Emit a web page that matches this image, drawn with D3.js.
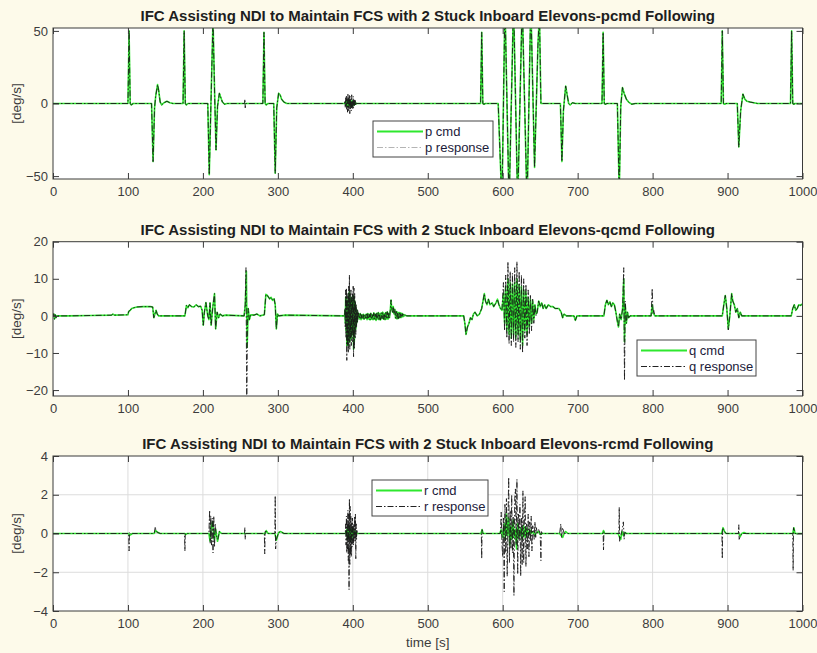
<!DOCTYPE html>
<html>
<head>
<meta charset="utf-8">
<script src="https://cdn.jsdelivr.net/npm/d3@7"></script>
<style>
  html, body { margin: 0; padding: 0; background: #fdfaea; }
  svg { display: block; font-family: "Liberation Sans", Arial, sans-serif; }
</style>
</head>
<body>
<svg id="chart" width="817" height="653"></svg>
<script>
// ---- tick labels ----
const timeTicks = [0, 100, 200, 300, 400, 500, 600, 700, 800, 900, 1000];
const pTicks = [-50, 0, 50];
const qTicks = [-20, -10, 0, 10, 20];
const rTicks = [-4, -2, 0, 2, 4];

const titles = [
  "IFC Assisting NDI to Maintain FCS with 2 Stuck Inboard Elevons-pcmd Following",
  "IFC Assisting NDI to Maintain FCS with 2 Stuck Inboard Elevons-qcmd Following",
  "IFC Assisting NDI to Maintain FCS with 2 Stuck Inboard Elevons-rcmd Following"
];
const legendP = ["p cmd", "p response"];
const legendQ = ["q cmd", "q response"];
const legendR = ["r cmd", "r response"];

// ---- roll rate p [deg/s]: [time, value] ----
const pCmd = [
  [0,0],[100,0],[101.5,50],[103,0],[104.5,-1],[107,0],
  [131.5,0],[133.5,-40],[135.5,-3],[137,5],[139.5,13],[141,9],[143,1],[145,-1],[148,0.5],[152,1.5],[156,0.5],[160,0],
  [173.5,0],[175,50],[176.5,0],[178,-1],[180,0],
  [206.5,0],[208.5,-49],[210.5,-5],[213.5,58],[215.5,10],[217.5,-32],[219.5,-2],[222,7],[224,4],[226,1],[229,-0.5],[232,0],
  [280,0],[281.5,49],[283,0],[284.5,-1],[287,0],
  [294.5,0],[296.5,-48],[298.5,-3],[301,7],[303,6],[305,3],[308,1],[312,0],
  [390,0],[391,1.5],[392,-2],[393,2],[394,-1.5],[395,2.5],[396,-2],[397,1.5],[398,-2.5],[399,2],[400,-1.5],[401,1.5],[402,-1],[403,1],[404,-0.5],[405,0],
  [570.5,0],[572,49],[573.5,0],[575,-0.5],[577,0],
  [594,0],[599,-70],[603,70],[608.5,-70],[614.5,70],[620,-70],[626,70],[632.5,-70],[637.5,70],[642.5,-44],[647,40],[649,62],[651,0],[653,0],
  [677,0],[679,-40],[681,-5],[684,12],[686,6],[688,0],[690,-1],[693,0.5],[697,0],
  [732.5,0],[734,49],[735.5,0],[737,-0.5],[739,0],
  [753,0],[755.5,-62],[757.5,-2],[759.8,11],[762,7],[765,3],[768,1],[772,-0.5],[777,0],
  [891.5,0],[893,50],[894.5,0],[896,-0.5],[898,0],
  [913,0],[915,-30],[917.5,-5],[920.5,6.5],[923,3],[926,1.5],[930,1],[935,0.5],[940,0],
  [984,0],[985.5,50],[987,0],[988.5,-0.5],[990,0],[1000,0]
];
const pResponse = [
  [0,0],[100,0],[101.5,50],[103,0],[104.5,-1],[107,0],
  [131.5,0],[133.5,-40],[135.5,-3],[137,5],[139.5,13],[141,9],[143,1],[145,-1],[148,0.5],[152,1.5],[156,0.5],[160,0],
  [173.5,0],[175,50],[176.5,0],[178,-1],[180,0],
  [206.5,0],[208.5,-49],[210.5,-5],[213.5,58],[215.5,10],[217.5,-32],[219.5,-2],[222,7],[224,4],[226,1],[229,-0.5],[232,0],
  [255.5,0],[256,3],[256.5,-3],[257,0],
  [280,0],[281.5,49],[283,0],[284.5,-1],[287,0],
  [294.5,0],[296.5,-48],[298.5,-3],[301,7],[303,6],[305,3],[308,1],[312,0],
  [389,0],[389.5,2],[390,-3],[390.5,4],[391,-2],[391.5,5],[392,-4],[392.5,3],[393,-6],[393.5,7],[394,-5],[394.5,4],[395,-3],
  [395.5,6],[396,-7],[396.5,5],[397,-4],[397.5,3],[398,-5],[398.5,6],[399,-3],[399.5,2],[400,-4],[400.5,5],[401,-3],
  [401.5,2],[402,-2],[402.5,3],[403,-1],[403.5,2],[404,-1],[404.5,0.5],[405,0],
  [570.5,0],[572,49],[573.5,0],[575,-0.5],[577,0],
  [594,0],[599,-70],[603,70],[608.5,-70],[614.5,70],[620,-70],[626,70],[632.5,-70],[637.5,70],[642.5,-44],[647,40],[649,62],[651,0],[653,0],
  [677,0],[679,-40],[681,-5],[684,12],[686,6],[688,0],[690,-1],[693,0.5],[697,0],
  [732.5,0],[734,49],[735.5,0],[737,-0.5],[739,0],
  [753,0],[755.5,-62],[757.5,-2],[759.8,11],[762,7],[765,3],[768,1],[772,-0.5],[777,0],
  [891.5,0],[893,50],[894.5,0],[896,-0.5],[898,0],
  [913,0],[915,-30],[917.5,-5],[920.5,6.5],[923,3],[926,1.5],[930,1],[935,0.5],[940,0],
  [984,0],[985.5,50],[987,0],[988.5,-0.5],[990,0],[1000,0]
];

// ---- pitch rate q [deg/s] ----
const qCmd = [
  [0,-0.3],[1,0.5],[2,-0.8],[3,0.3],[4,-0.5],[5,0],[20,0],[50,0.1],[78,0.2],[80,0.5],[82,0.2],[100,0.3],
  [101,1.2],[103,1.5],[105,2.0],[108,2.2],[112,2.4],[120,2.5],[130,2.5],[133,2.4],[134.5,-0.5],[136,0.5],[137.5,1.5],[139,0.5],[141,0],
  [176,0],[178,2.8],[180,2.2],[182,3],[185,2.5],[188,2.4],[191,3],[194,2.5],[197,2.6],[199,1.5],[200.5,-2.5],[202,1],[204,3.6],
  [206.5,0],[208,-1],[209.5,3.5],[211,-2.5],[213,2],[215.5,6],[217,-3.5],[219,1],[221,-0.5],[223,0.5],[226,0],[230,0.2],
  [255,0],[256.5,3],[258,12],[259,-8.5],[260.5,2],[262,-1],[264,0.3],[268,0.2],[272,0.5],[276,0],
  [282,0.3],[284,5.8],[286,5.5],[289,4.6],[291,5],[293,4.2],[295,4.6],[296.5,3],[298,-3.5],[299.5,0.5],[301,0],[310,0.2],
  [389,0],[389.5,1.5],[390,-2],[390.5,5],[391,-4],[391.5,5],[392,-8],[392.5,4],[393,-6],[393.5,4],[394,-8],[394.5,6],[395,-5],
  [395.5,6.5],[396,-7],[396.5,4],[397,-4.5],[397.5,5],[398,-6],[398.5,4],[399,-4],[399.5,4.5],[400,-5],[400.5,5.5],[401,-9],
  [401.5,5],[402,-7],[402.5,4],[403,-4],[403.5,3],[404,-3.5],[404.5,2],[405,-2],[405.5,1.5],[406,-1.5],[406.5,1],[407,-0.5],[407.5,0.5],
  [408,0.5],[409,-0.8],[410,0.6],[411,-1],[412,0.3],[413,-0.7],[414,0.4],[415,-0.9],[416,0.2],[417,-0.6],[418,0.5],[419,-1],
  [420,0.6],[421,-0.8],[422,0.4],[423,-1.1],[424,0.7],[425,-0.9],[426,0.3],[427,-1],[428,0.8],[429,-0.9],[430,0.5],[431,-1.2],
  [432,0.7],[433,-0.8],[434,0.9],[435,-1],[436,0.6],[437,-1.1],[438,0.8],[439,-0.7],[440,1],[441,-0.9],[442,0.6],[443,-1],
  [444,0.9],[445,-0.8],[446,1.1],[447,-0.9],[448,0.7],[449,-0.5],[450,1.5],[451,4.3],[452,2],[453,1],[454,2.5],[455,0.5],
  [456,1.8],[457,-0.6],[458,1.2],[459,-0.8],[460,1],[461,-0.7],[462,0.9],[463,-0.5],[464,0.8],[465,-0.4],[466,0.6],[467,-0.2],
  [468,0.4],[469,0],[470,0.2],[472,0],[548,0],
  [549.5,-2],[551,-5],[553,-3],[555,-2],[557,-0.5],[559,-1],[561,0.5],[563,1],[566,0],[569,0.5],[572,2],[575.5,6],[577,4],
  [579,3],[581,4.5],[583,3],[586,3.5],[588,2.5],[591,3.5],[593,4.5],[595,3],[597,2],[599,1.5],
  [601,6],[602.5,-2],[604,8],[605.5,-4],[607,10],[608.5,-5],[610,9],[611.5,-6],[613,8.5],[614.5,-5],[616,9],[617.5,-6],
  [619,10],[620.5,-5],[622,8.5],[623.5,-6.5],[625,8],[626.5,-8],[628,7],[629.5,-4],[631,6.5],[632.5,-5],[634,5],[635.5,-3],
  [637,4.5],[638.5,-2],[640,4],[641.5,-1],[643,3],[644.5,0.5],[646,1],
  [648,4],[650,2.5],[652,3.5],[654,2],[656,3],[658,2],[661,3],[664,2.5],[667,2.5],[670,2],[675,2],[678,1],[680,-0.5],[682,0.5],
  [685,0],[695,0],[697,-1.2],[699,0],[703,0],[735,0],[737,3],[739,4.2],[741,3],[743,3.8],[745,2.5],[747,3.5],[749,3],[751,1],
  [753,-1.5],[754.5,-3],[756,0.5],[758,-1],[760,2],[761.5,10],[762.5,-7],[763.5,3],[765,-2],[766.5,1],[768,-0.5],[770,0],
  [798,0],[799.5,3],[801,0.8],[803,0],[893,0],[895,3],[897,5.5],[899,2],[901,-3.5],[903,0],[905.5,6],[907,4],[909,3],[911,1],
  [913,2],[915,-0.5],[917,1],[919,0],[925,0],[985,0],[987,2],[989,3],[991,1.5],[993,2],[995,3],[997,2.8],[1000,3.2]
];
const qResponse = [
  [0,-0.3],[1,0.6],[2,-0.9],[3,0.3],[4,-0.5],[5,0],[20,0],[50,0.1],[78,0.2],[80,0.5],[82,0.2],[100,0.3],
  [101,1.2],[103,1.5],[105,2.0],[108,2.2],[112,2.4],[120,2.5],[130,2.5],[133,2.4],[134.5,-0.5],[136,0.5],[137.5,1.5],[139,0.5],[141,0],
  [176,0],[178,2.8],[180,2.2],[182,3],[185,2.5],[188,2.4],[191,3],[194,2.5],[197,2.6],[199,1.5],[200.5,-2.5],[202,1],[204,3.6],
  [206.5,0],[208,-1],[209.5,3.5],[211,-2.5],[213,2],[215.5,6],[217,-3.5],[219,1],[221,-0.5],[223,0.5],[226,0],[230,0.2],
  [255,0],[256.5,3],[257.5,13],[258.5,-25],[259.5,-2],[260.5,2],[262,-1],[264,0.3],[268,0.2],[272,0.5],[276,0],
  [282,0.3],[284,5.8],[286,5.5],[289,4.6],[291,5],[293,4.2],[295,4.6],[296.5,3],[298,-3.5],[299.5,0.5],[301,0],[310,0.2],
  [389,0],[389.5,2],[390,-3],[390.5,7],[391,-6],[391.5,7.5],[392,-12],[392.5,6],[393,-8],[393.5,5],[394,-10],[394.5,8],[395,-7],
  [395.5,11],[396,-9],[396.5,6],[397,-6],[397.5,7],[398,-8],[398.5,5],[399,-5],[399.5,6],[400,-7],[400.5,8],[401,-11],
  [401.5,7.5],[402,-9],[402.5,6],[403,-6],[403.5,4],[404,-5],[404.5,3],[405,-3],[405.5,2],[406,-2],[406.5,1.5],[407,-1],[407.5,0.8],
  [408,0.5],[409,-0.8],[410,0.6],[411,-1],[412,0.3],[413,-0.7],[414,0.4],[415,-0.9],[416,0.2],[417,-0.6],[418,0.5],[419,-1],
  [420,0.6],[421,-0.8],[422,0.4],[423,-1.1],[424,0.7],[425,-0.9],[426,0.3],[427,-1],[428,0.8],[429,-0.9],[430,0.5],[431,-1.2],
  [432,0.7],[433,-0.8],[434,0.9],[435,-1],[436,0.6],[437,-1.1],[438,0.8],[439,-0.7],[440,1],[441,-0.9],[442,0.6],[443,-1],
  [444,0.9],[445,-0.8],[446,1.1],[447,-0.9],[448,0.7],[449,-0.5],[450,1.5],[451,4.3],[452,2],[453,1],[454,2.5],[455,0.5],
  [456,1.8],[457,-0.6],[458,1.2],[459,-0.8],[460,1],[461,-0.7],[462,0.9],[463,-0.5],[464,0.8],[465,-0.4],[466,0.6],[467,-0.2],
  [468,0.4],[469,0],[470,0.2],[472,0],[548,0],
  [549.5,-2],[551,-5],[553,-3],[555,-2],[557,-0.5],[559,-1],[561,0.5],[563,1],[566,0],[569,0.5],[572,2],[575.5,6],[577,4],
  [579,3],[581,4.5],[583,3],[586,3.5],[588,2.5],[591,3.5],[593,4.5],[595,3],[597,2],[599,1.5],
  [601,9],[602.5,-4],[604,11],[605.5,-6],[607,14.6],[608.5,-7.5],[610,12],[611.5,-8],[613,11.5],[614.5,-7],[616,13],[617.5,-8.5],
  [619,14.6],[620.5,-7],[622,12],[623.5,-9],[625,11],[626.5,-10],[628,10],[629.5,-6],[631,8.5],[632.5,-8],[634,7],[635.5,-5],
  [637,5.5],[638.5,-4],[640,4.5],[641.5,-2],[643,3],[644.5,0],[646,1],
  [648,4],[650,2.5],[652,3.5],[654,2],[656,3],[658,2],[661,3],[664,2.5],[667,2.5],[670,2],[675,2],[678,1],[680,-0.5],[682,0.5],
  [685,0],[695,0],[697,-1.2],[699,0],[703,0],[735,0],[737,3],[739,4.2],[741,3],[743,3.8],[745,2.5],[747,3.5],[749,3],[751,1],
  [753,-1.5],[754.5,-3],[756,0.5],[758,-1],[760,2],[761.5,13],[762.5,-17.4],[763.5,4],[765,-2],[766.5,1],[768,-0.5],[770,0],
  [798,0],[799.5,7.4],[800.5,0.5],[801.5,1.5],[803,0],[893,0],[895,3],[897,5.5],[899,2],[901,-3.8],[903,0],[905.5,6],[907,4],[909,3],[911,1],
  [913,2],[915,-0.5],[917,1],[919,0],[925,0],[985,0],[987,2],[989,3],[991,1.5],[993,2],[995,3],[997,2.8],[1000,3.2]
];

// ---- yaw rate r [deg/s] ----
const rCmd = [
  [0,0],[101,0],[102,-0.1],[104,-0.05],[106,0],[135,0],[137,0.15],[140,0.05],[143,0],[176,0],[177,-0.05],[179,0],
  [208,0],[209.5,-0.4],[211,0.3],[213,0.6],[215,-0.3],[217,0.2],[219.5,-0.4],[222,0.1],[225,0],
  [283,0],[284.5,0.15],[287,0],[296,0],[298,-0.35],[301,0.05],[304,0.1],[308,0],
  [390,0],[392,0.2],[393,-0.3],[394,0.4],[395,-0.2],[396,0.3],[397,-0.4],[398,0.2],[399,-0.2],[400,0.3],[401,-0.1],[402,0.1],[403,0],[404,0.1],[405,0],
  [571,0],[572.5,0.2],[574,0],[596,0],[598,0.2],[600,-0.2],[602,0.5],[603.5,-0.3],[605,1.0],[606.5,-0.1],[608,0.8],[609.5,-0.6],
  [611,0.4],[612.5,-0.3],[614,0.7],[615.5,-0.2],[617,0.2],[618.5,-0.8],[620,0.5],[622,-0.2],[624,0.3],[626,-0.3],[628,0.4],
  [630,-0.2],[632,0.3],[634,-0.1],[636,0.2],[638,0],[640,0.1],[643,-0.1],[645,0.05],[648,0.1],[650,-0.05],[652,0],
  [676,0],[678,-0.1],[680,-0.2],[682,0],[684,0.1],[687,0],[733,0],[734.5,0.15],[736,0],
  [754,0],[756,-0.2],[757.5,-0.3],[759,0.1],[761,-0.1],[763,0.05],[765,0],
  [892,0],[894,0.3],[896,0.1],[898,0],[915,0],[917,-0.15],[919,0],[922,0.05],[925,0],[987,0],[988.5,0.3],[990,0],[1000,0]
];
const rResponse = [
  [0,0],[101,0],[101.5,-0.9],[102,0.05],[104,-0.05],[106,0],[135,0],[136.5,0.35],[137.5,0.1],[140,0.05],[143,0],
  [175.5,0],[176,-0.9],[176.5,0],[208,0],[209,1.2],[209.8,-0.5],[210.5,0.9],[211.5,-0.6],[212.5,0.8],[213.5,-1.0],
  [214.5,0.9],[215.5,-0.7],[216.5,0.5],[218,-0.2],[220,-0.3],[222,0.1],[225,0],
  [255.5,0],[256,0.3],[256.5,-0.3],[257,0],[282,0],[282.5,-1.05],[283,0.1],[285,0.1],[287,0],
  [296,0],[296.5,1.95],[297,-0.8],[298,-0.3],[301,0.05],[304,0.1],[308,0],
  [390,0],[390.5,0.5],[391,-0.6],[391.5,0.9],[392,-1.0],[392.5,0.7],[393,-0.8],[393.5,1.2],[394,-1.4],[394.5,1.0],[395,-2.9],
  [395.5,1.8],[396,-1.6],[396.5,1.4],[397,-1.1],[397.5,0.9],[398,-1.2],[398.5,0.6],[399,-0.7],[399.5,0.8],[400,-0.5],
  [400.5,0.4],[401,-0.6],[401.5,0.5],[402,-0.3],[402.5,0.9],[403,-0.4],[403.5,1.0],[404,-1.3],[404.5,0.5],[405,-0.3],
  [405.5,0.2],[406,0],[408,0],
  [571.5,0],[572,-1.3],[572.5,0.2],[574,0],
  [597,0],[598,1.1],[599,-0.5],[600,-1.2],[601,0.8],[602,-3.0],[603,1.5],[604,-1.0],[605,1.8],[606,-2.2],[607,0.5],[608,2.9],
  [609,-1.5],[610,1.2],[611,-0.8],[612,2.0],[613,-1.0],[614,0.9],[615,-3.2],[616,1.8],[617,2.3],[618,-0.6],[619,2.8],
  [620,-2.1],[621,1.0],[622,-0.4],[623,1.5],[624,-2.2],[625,0.8],[626,-1.6],[627,2.2],[628,-1.5],[629,0.7],[630,1.9],
  [631,-1.7],[632,0.5],[633,-0.8],[634,1.0],[635,-1.2],[636,0.6],[637,-0.4],[638,0.9],[639,-0.9],[640,0.4],[641,0.2],
  [642,-0.3],[643,0.6],[644,-0.2],[645,0.3],[646,0],[648,0.2],[650,0],[651,-1.4],[651.5,0.1],[653,0],
  [676,0],[677.5,0.5],[678.5,-0.2],[680,0.3],[682,0],[734,0],[734.5,-0.85],[735,0.1],[736,0],
  [755,0],[755.5,1.35],[756,-0.4],[757,-0.2],[759,0.1],[761,0.6],[762,-0.3],[763,0.05],[765,0],
  [892.5,0],[893,-1.3],[893.5,0.3],[896,0.1],[898,0],[914.5,0],[915,0.45],[915.5,-0.3],[917,-0.15],[919,0],[925,0],
  [987,0],[987.5,-1.9],[988,0.3],[990,0],[1000,0]
];

// ---- layout of the three axes ----
const left = 53, right = 802.5;
const panels = [
  { top: 28, bottom: 179, domain: [-52, 52], ticks: pTicks, cmd: pCmd, resp: pResponse, title: titles[0],
    legend: legendP, legendBox: [373, 121, 120, 36], legendRespColor: "#b4b4b4", grid: false },
  { top: 241.7, bottom: 396, domain: [-21.6, 20], ticks: qTicks, cmd: qCmd, resp: qResponse, title: titles[1],
    legend: legendQ, legendBox: [637, 340, 119, 36], legendRespColor: "#222", grid: false },
  { top: 456, bottom: 611, domain: [-4, 4], ticks: rTicks, cmd: rCmd, resp: rResponse, title: titles[2],
    legend: legendR, legendBox: [372, 480, 116, 36], legendRespColor: "#222", grid: true }
];

const svg = d3.select("#chart");
const x = d3.scaleLinear().domain([0, 1000]).range([left, right]);
const green = "#2ee82e";
const dashDot = "6,2,1.5,2";

panels.forEach((p, i) => {
  const y = d3.scaleLinear().domain(p.domain).range([p.bottom, p.top]);
  const g = svg.append("g");

  g.append("rect").attr("x", left).attr("y", p.top)
    .attr("width", right - left).attr("height", p.bottom - p.top).attr("fill", "#fff");

  if (p.grid) {
    g.append("g").selectAll("line").data(timeTicks.slice(1, -1)).join("line")
      .attr("x1", d => x(d)).attr("x2", d => x(d)).attr("y1", p.top).attr("y2", p.bottom)
      .attr("stroke", "#dcdcdc").attr("stroke-width", 1);
    g.append("g").selectAll("line").data(p.ticks.slice(1, -1)).join("line")
      .attr("x1", left).attr("x2", right).attr("y1", d => y(d)).attr("y2", d => y(d))
      .attr("stroke", "#dcdcdc").attr("stroke-width", 1);
  }

  const clipId = "clip" + i;
  svg.append("defs").append("clipPath").attr("id", clipId)
    .append("rect").attr("x", left).attr("y", p.top).attr("width", right - left).attr("height", p.bottom - p.top);

  const line = d3.line().x(d => x(d[0])).y(d => y(d[1]));
  const plot = g.append("g").attr("clip-path", `url(#${clipId})`);
  plot.append("path").datum(p.cmd).attr("d", line)
    .attr("fill", "none").attr("stroke", green).attr("stroke-width", 1.6).attr("stroke-linejoin", "round");
  plot.append("path").datum(p.resp).attr("d", line)
    .attr("fill", "none").attr("stroke", "#1a1a1a").attr("stroke-width", 0.9)
    .attr("stroke-dasharray", dashDot);

  // axes with inward ticks on all four sides
  const tl = 6;
  const axB = d3.axisBottom(x).tickValues(timeTicks).tickSize(-tl).tickPadding(7.5).tickFormat(d3.format("d"));
  const axT = d3.axisTop(x).tickValues(timeTicks).tickSize(-tl).tickFormat("");
  const axL = d3.axisLeft(y).tickValues(p.ticks).tickSize(-tl).tickPadding(5).tickFormat(d3.format("d"));
  const axR = d3.axisRight(y).tickValues(p.ticks).tickSize(-tl).tickFormat("");
  const style = sel => {
    sel.select(".domain").remove();
    sel.selectAll("line").attr("stroke", "#3a3a3a");
    sel.selectAll("text").attr("fill", "#3c3c3c").style("font-size", "13px")
      .style("font-family", "'Liberation Sans', Arial, sans-serif");
  };
  g.append("g").attr("transform", `translate(0,${p.bottom})`).call(axB).call(style);
  g.append("g").attr("transform", `translate(0,${p.top})`).call(axT).call(style);
  g.append("g").attr("transform", `translate(${left},0)`).call(axL).call(style);
  g.append("g").attr("transform", `translate(${right},0)`).call(axR).call(style);

  g.append("rect").attr("x", left).attr("y", p.top)
    .attr("width", right - left).attr("height", p.bottom - p.top)
    .attr("fill", "none").attr("stroke", "#3a3a3a").attr("stroke-width", 1);

  // title
  g.append("text").attr("x", (left + right) / 2).attr("y", p.top - 7)
    .attr("text-anchor", "middle").attr("fill", "#1e1e1e")
    .style("font-size", "15px").style("font-weight", "bold").text(p.title);

  // y label
  g.append("text").attr("transform", `translate(21,${(p.top + p.bottom) / 2}) rotate(-90)`)
    .attr("text-anchor", "middle").attr("fill", "#3c3c3c").style("font-size", "13.5px").text("[deg/s]");

  // legend
  const [lx, ly, lw, lh] = p.legendBox;
  const lg = g.append("g");
  lg.append("rect").attr("x", lx).attr("y", ly).attr("width", lw).attr("height", lh)
    .attr("fill", "#fff").attr("stroke", "#444").attr("stroke-width", 1);
  const rows = [
    { label: p.legend[0], color: green, width: 1.8, dash: null, dy: 10.5 },
    { label: p.legend[1], color: p.legendRespColor, width: 1, dash: dashDot, dy: 26.5 }
  ];
  rows.forEach(r => {
    lg.append("line").attr("x1", lx + 4).attr("x2", lx + 50).attr("y1", ly + r.dy).attr("y2", ly + r.dy)
      .attr("stroke", r.color).attr("stroke-width", r.width).attr("stroke-dasharray", r.dash);
    lg.append("text").attr("x", lx + 52).attr("y", ly + r.dy + 4.5).attr("fill", "#1b1b3a")
      .style("font-size", "13px").text(r.label);
  });
});

// time axis label
svg.append("text").attr("x", (left + right) / 2).attr("y", 647).attr("text-anchor", "middle")
  .attr("fill", "#3c3c3c").style("font-size", "13.5px").text("time [s]");
</script>
</body>
</html>
